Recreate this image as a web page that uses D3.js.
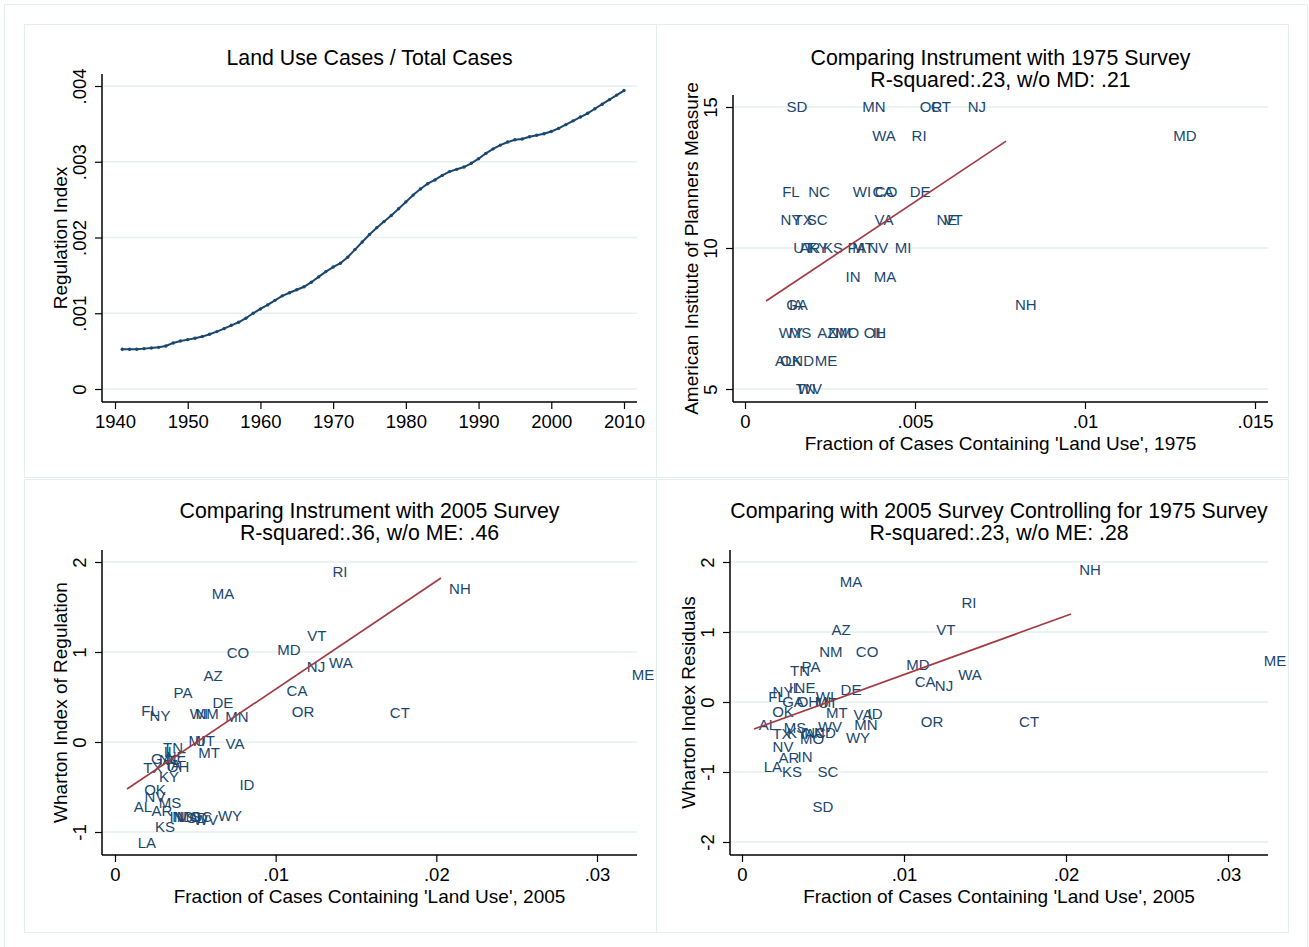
<!DOCTYPE html>
<html>
<head>
<meta charset="utf-8">
<script src="https://cdn.jsdelivr.net/npm/d3@7"></script>
<style>
  body { margin: 0; background: #fff; }
  svg { display: block; }
  text { font-family: "Liberation Sans", Arial, Helvetica, sans-serif; fill: #000; }
</style>
</head>
<body>
<svg id="chart" width="1309" height="947"></svg>
<script>
// ---- Panel 1: regulation index over time ----
const years = [1941,1942,1943,1944,1945,1946,1947,1948,1949,1950,
  1951,1952,1953,1954,1955,1956,1957,1958,1959,1960,
  1961,1962,1963,1964,1965,1966,1967,1968,1969,1970,
  1971,1972,1973,1974,1975,1976,1977,1978,1979,1980,
  1981,1982,1983,1984,1985,1986,1987,1988,1989,1990,
  1991,1992,1993,1994,1995,1996,1997,1998,1999,2000,
  2001,2002,2003,2004,2005,2006,2007,2008,2009,2010];
const regIndex = [0.000524,0.000524,0.000524,0.000533,0.000542,0.00055,0.000568,0.000608,0.000634,0.000652,
  0.00067,0.000692,0.000722,0.000758,0.000797,0.000841,0.000881,0.000934,0.001,0.001057,
  0.00111,0.00117,0.00123,0.00127,0.00131,0.00135,0.00141,0.00148,0.00155,0.00161,
  0.00166,0.00174,0.00184,0.00194,0.00204,0.00213,0.00221,0.00229,0.00238,0.00247,
  0.00256,0.00264,0.00271,0.00276,0.00282,0.00287,0.0029,0.00293,0.00298,0.00304,
  0.00311,0.00317,0.00322,0.00326,0.00329,0.0033,0.00333,0.00335,0.00337,0.0034,
  0.00344,0.00349,0.00354,0.00359,0.00364,0.0037,0.00376,0.00382,0.00388,0.00394];
const yearTicks = [1940,1950,1960,1970,1980,1990,2000,2010];
const regTicks = [0,0.001,0.002,0.003,0.004];

// ---- Panel 2: instrument vs 1975 AIP survey ----
const states1975 = ["SD","MN","OR","CT","NJ","WA","RI","MD",
  "FL","NC","WI","CA","CO","DE",
  "NY","TX","SC","VA","NE","VT",
  "UT","AR","KY","KS","PA","MT","NV","MI",
  "IN","MA","GA","IA","NH",
  "WY","MS","AZ","NM","MO","OH","IL",
  "AL","OK","ND","ME","TN","WV"];
const share1975 = [0.00153,0.00379,0.00547,0.00576,0.00682,0.00409,0.00512,0.01294,
  0.00135,0.00218,0.00344,0.00406,0.00415,0.00515,
  0.00135,0.00171,0.00212,0.00409,0.00594,0.00612,
  0.00171,0.00191,0.00215,0.00259,0.00329,0.00347,0.00391,0.00465,
  0.00318,0.00412,0.00153,0.0015,0.00826,
  0.00135,0.00162,0.00241,0.00279,0.003,0.00382,0.00394,
  0.00115,0.00135,0.00171,0.00238,0.00179,0.00191];
const aip1975 = [15,15,15,15,15,14,14,14,
  12,12,12,12,12,12,
  11,11,11,11,11,11,
  10,10,10,10,10,10,10,10,
  9,9,8,8,8,
  7,7,7,7,7,7,7,
  6,6,6,6,5,5];
const fit1975X = [0.00062,0.00768];
const fit1975Y = [8.12,13.79];
const share1975Ticks = [0,0.005,0.01,0.015];
const aipTicks = [5,10,15];

// ---- Panel 3: instrument vs 2005 Wharton index ----
const states2005 = ["RI","MA","NH","VT","MD","CO","NJ","WA","ME","AZ",
  "PA","CA","DE","FL","NY","WI","NM","MN","OR","CT",
  "MI","UT","VA","TN","MT","IL","GA","NC","NE","IA",
  "TX","OH","KY","ID","OK","NV","MS","AL","AR","IN",
  "ND","MO","SD","SC","WV","WY","KS","LA"];
const share2005 = [0.0140,0.00672,0.02147,0.01257,0.01083,0.00765,0.01251,0.01406,0.03286,0.0061,
  0.00423,0.01133,0.00672,0.00218,0.0028,0.00523,0.00573,0.00759,0.0117,0.01773,
  0.0051,0.0056,0.00747,0.00361,0.00585,0.00342,0.00292,0.00342,0.0038,0.00367,
  0.00236,0.00392,0.00336,0.00821,0.00249,0.00249,0.00342,0.00174,0.00292,0.00386,
  0.00423,0.0046,0.0051,0.00541,0.00566,0.00716,0.00311,0.00199];
const wharton2005 = [1.889,1.644,1.70,1.178,1.022,0.989,0.833,0.878,0.744,0.733,
  0.544,0.567,0.433,0.344,0.289,0.311,0.311,0.278,0.333,0.322,
  0.011,0.011,-0.022,-0.067,-0.122,-0.111,-0.189,-0.2,-0.167,-0.256,
  -0.289,-0.278,-0.389,-0.478,-0.533,-0.611,-0.678,-0.722,-0.767,-0.833,
  -0.833,-0.833,-0.844,-0.833,-0.867,-0.822,-0.944,-1.122];
const fit2005X = [0.00075,0.02029];
const fit2005Y = [-0.522,1.822];
const share2005Ticks = [0,0.01,0.02,0.03];
const whartonTicks = [-1,0,1,2];

// ---- Panel 4: 2005 index residuals after controlling for 1975 survey ----
const statesResid = ["NH","MA","RI","AZ","VT","NM","CO","MD","ME","TN",
  "PA","WA","CA","NJ","DE","NY","IL","NE","FL","GA",
  "OH","WI","MI","UT","OK","MT","VA","ID","OR","CT",
  "AL","MN","MS","WV","TX","KY","IA","NC","ND","MO",
  "WY","NV","AR","IN","LA","KS","SC","SD"];
const shareResid = [0.02148,0.00673,0.01401,0.00611,0.01259,0.00549,0.00772,0.01086,0.0329,0.00358,
  0.00426,0.01407,0.0113,0.01247,0.00673,0.00253,0.00327,0.00389,0.00216,0.00315,
  0.00407,0.00512,0.005,0.00531,0.00253,0.00586,0.00747,0.00821,0.01173,0.01772,
  0.0016,0.00765,0.00327,0.00543,0.00247,0.0034,0.00407,0.00451,0.00512,0.00432,
  0.00716,0.00253,0.0029,0.00389,0.00191,0.00309,0.00531,0.005];
const residual2005 = [1.886,1.714,1.414,1.029,1.029,0.714,0.714,0.529,0.586,0.443,
  0.5,0.386,0.286,0.229,0.171,0.143,0.2,0.2,0.071,0,
  0,0.071,0,-0.014,-0.143,-0.157,-0.186,-0.171,-0.286,-0.286,
  -0.329,-0.329,-0.371,-0.357,-0.457,-0.443,-0.457,-0.443,-0.443,-0.529,
  -0.514,-0.643,-0.8,-0.786,-0.929,-1.0,-1.0,-1.5];
const fitResidX = [0.00074,0.02031];
const fitResidY = [-0.386,1.257];
const residTicks = [-2,-1,0,1,2];

// ---- drawing ----
const NAVY = "#1a476f";
const MAROON = "#a23b42";
const FRAME = "#e4eeef";
const GRID = "#e6eff0";

const svg = d3.select("#chart");
svg.append("rect").attr("width", 1309).attr("height", 947).attr("fill", "#fff");

// outer graph region and the four sub-graph regions
svg.append("rect").attr("x", 4.5).attr("y", 4.5).attr("width", 1303).attr("height", 948)
  .attr("fill", "none").attr("stroke", FRAME);
[[24, 24], [656, 24], [24, 479], [656, 479]].forEach(([x, y]) => {
  svg.append("rect").attr("x", x + 0.5).attr("y", y + 0.5).attr("width", 632).attr("height", 453)
    .attr("fill", "#fff").attr("stroke", FRAME);
});

const fmtDec = d => d === 0 ? "0" : String(d).replace(/^(-?)0\./, "$1.");

function panel(cfg) {
  const g = svg.append("g");
  const { x, y, box } = cfg;

  // horizontal grid
  g.selectAll(null).data(cfg.yTicks).join("line")
    .attr("x1", box.left).attr("x2", box.right)
    .attr("y1", d => y(d)).attr("y2", d => y(d))
    .attr("stroke", GRID).attr("stroke-width", 1.5);

  // x axis
  const xa = g.append("g").attr("transform", `translate(0,${box.bottom})`)
    .call(d3.axisBottom(x).tickValues(cfg.xTicks).tickSize(7).tickPadding(6).tickFormat(cfg.xFmt));
  xa.select(".domain").remove();
  xa.selectAll(".tick line").attr("stroke", "#000").attr("stroke-width", 1.2);
  xa.selectAll(".tick text").attr("font-size", 18.5).attr("fill", "#000")
    .attr("font-family", "Liberation Sans, Arial, sans-serif").attr("dy", 0).attr("y", 26);
  g.append("line").attr("x1", box.left).attr("x2", box.right)
    .attr("y1", box.bottom).attr("y2", box.bottom).attr("stroke", "#000").attr("stroke-width", 1.5);

  // y axis with upright-rotated labels
  const ya = g.append("g").attr("transform", `translate(${box.left},0)`)
    .call(d3.axisLeft(y).tickValues(cfg.yTicks).tickSize(7).tickFormat(cfg.yFmt));
  ya.select(".domain").remove();
  ya.selectAll(".tick line").attr("stroke", "#000").attr("stroke-width", 1.2);
  ya.selectAll(".tick text").attr("font-size", 18.5).attr("fill", "#000")
    .attr("font-family", "Liberation Sans, Arial, sans-serif")
    .attr("transform", "rotate(-90)").attr("x", 0).attr("y", -16).attr("dy", 0)
    .attr("text-anchor", "middle");
  g.append("line").attr("x1", box.left).attr("x2", box.left)
    .attr("y1", box.top).attr("y2", box.bottom).attr("stroke", "#000").attr("stroke-width", 1.5);

  // titles
  const cx = (box.left + box.right) / 2;
  cfg.title.forEach((t, i) => {
    g.append("text").attr("x", cx).attr("y", cfg.titleY + i * 22)
      .attr("text-anchor", "middle").attr("font-size", 21.3).text(t);
  });
  if (cfg.xTitle) {
    g.append("text").attr("x", cx).attr("y", box.bottom + 48)
      .attr("text-anchor", "middle").attr("font-size", 19).text(cfg.xTitle);
  }
  const cy = (box.top + box.bottom) / 2;
  g.append("text").attr("transform", `translate(${box.left - 35},${cy}) rotate(-90)`)
    .attr("text-anchor", "middle").attr("font-size", 19).text(cfg.yTitle);
  return g;
}

function labelScatter(g, x, y, names, xs, ys, fitX, fitY) {
  g.selectAll(null).data(names).join("text")
    .attr("x", (d, i) => x(xs[i])).attr("y", (d, i) => y(ys[i]))
    .attr("dy", "0.36em").attr("text-anchor", "middle")
    .attr("font-size", 15).style("fill", NAVY).text(d => d);
  const line = d3.line().x(d => x(d[0])).y(d => y(d[1]));
  g.append("path").datum(fitX.map((v, i) => [v, fitY[i]]))
    .attr("d", line).attr("fill", "none").attr("stroke", MAROON).attr("stroke-width", 1.7);
}

// Panel 1
{
  const box = { left: 102, right: 637, top: 74, bottom: 402 };
  const x = d3.scaleLinear().domain([1940, 2010]).range([115, 624]);
  const y = d3.scaleLinear().domain([0, 0.004]).range([389, 86]);
  const g = panel({ x, y, box, xTicks: yearTicks, yTicks: regTicks,
    xFmt: d => String(d), yFmt: fmtDec,
    title: ["Land Use Cases / Total Cases"], titleY: 65,
    yTitle: "Regulation Index" });
  const pts = years.map((yr, i) => [yr, regIndex[i]]);
  g.append("path").datum(pts)
    .attr("d", d3.line().x(d => x(d[0])).y(d => y(d[1])))
    .attr("fill", "none").attr("stroke", NAVY).attr("stroke-width", 2);
  g.selectAll(null).data(pts).join("circle")
    .attr("cx", d => x(d[0])).attr("cy", d => y(d[1])).attr("r", 1.7).attr("fill", NAVY);
}

// Panel 2
{
  const box = { left: 733, right: 1268, top: 95, bottom: 402 };
  const x = d3.scaleLinear().domain([0, 0.015]).range([745, 1255]);
  const y = d3.scaleLinear().domain([5, 15]).range([389, 107]);
  const g = panel({ x, y, box, xTicks: share1975Ticks, yTicks: aipTicks,
    xFmt: fmtDec, yFmt: d => String(d),
    title: ["Comparing Instrument with 1975 Survey", "R-squared:.23, w/o MD: .21"], titleY: 65,
    xTitle: "Fraction of Cases Containing 'Land Use', 1975",
    yTitle: "American Institute of Planners Measure" });
  labelScatter(g, x, y, states1975, share1975, aip1975, fit1975X, fit1975Y);
}

// Panel 3
{
  const box = { left: 102, right: 637, top: 550, bottom: 855 };
  const x = d3.scaleLinear().domain([0, 0.03]).range([115, 597]);
  const y = d3.scaleLinear().domain([-1, 2]).range([832, 562]);
  const g = panel({ x, y, box, xTicks: share2005Ticks, yTicks: whartonTicks,
    xFmt: fmtDec, yFmt: d => String(d),
    title: ["Comparing Instrument with 2005 Survey", "R-squared:.36, w/o ME: .46"], titleY: 518,
    xTitle: "Fraction of Cases Containing 'Land Use', 2005",
    yTitle: "Wharton Index of Regulation" });
  labelScatter(g, x, y, states2005, share2005, wharton2005, fit2005X, fit2005Y);
}

// Panel 4
{
  const box = { left: 730, right: 1268, top: 550, bottom: 855 };
  const x = d3.scaleLinear().domain([0, 0.03]).range([742, 1228]);
  const y = d3.scaleLinear().domain([-2, 2]).range([842, 562]);
  const g = panel({ x, y, box, xTicks: share2005Ticks, yTicks: residTicks,
    xFmt: fmtDec, yFmt: d => String(d),
    title: ["Comparing with 2005 Survey Controlling for 1975 Survey", "R-squared:.23, w/o ME: .28"], titleY: 518,
    xTitle: "Fraction of Cases Containing 'Land Use', 2005",
    yTitle: "Wharton Index Residuals" });
  labelScatter(g, x, y, statesResid, shareResid, residual2005, fitResidX, fitResidY);
}
</script>
</body>
</html>
